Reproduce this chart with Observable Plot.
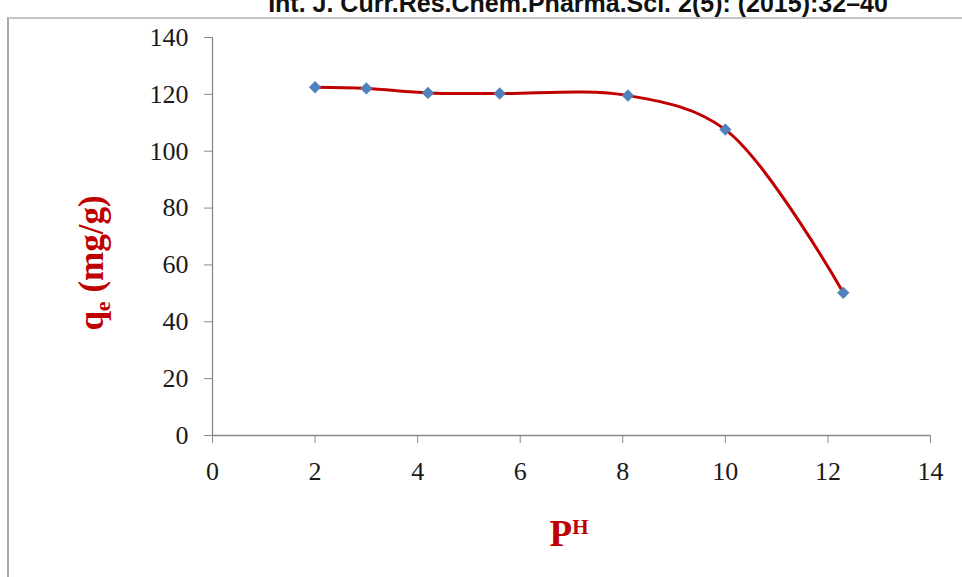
<!DOCTYPE html>
<html>
<head>
<meta charset="utf-8">
<script src="https://cdn.jsdelivr.net/npm/d3@7"></script>
<script src="https://cdn.jsdelivr.net/npm/@observablehq/plot@0.6"></script>
<style>
  body { margin: 0; background: #fff; }
  #wrap { position: relative; width: 962px; height: 577px; overflow: hidden; background: #fff; }
  #wrap svg { position: absolute; left: 0; top: 0; }
  #frame { position: absolute; left: 7px; top: 17px; width: 980px; height: 600px;
           border-left: 2px solid #a9a9a9; border-top: 2px solid #c4c4c4; }
</style>
</head>
<body>
<div id="wrap">
  <div id="frame"></div>
</div>
<script>
// ---- data ----
const header = "Int. J. Curr.Res.Chem.Pharma.Sci. 2(5): (2015):32–40";
const pH = [2, 3, 4.2, 5.6, 8.1, 10, 12.3];
const qe = [122.5, 122.1, 120.5, 120.3, 119.6, 107.6, 50.2];
const xTicks = [0, 2, 4, 6, 8, 10, 12, 14];
const yTicks = [0, 20, 40, 60, 80, 100, 120, 140];

const data = pH.map((x, i) => ({ x, y: qe[i] }));

const chart = Plot.plot({
  width: 962,
  height: 577,
  marginLeft: 212,
  marginRight: 32,
  marginTop: 37,
  marginBottom: 142,
  style: { fontFamily: "'Liberation Serif', 'Times New Roman', serif", fontSize: "26px", background: "transparent" },
  x: { domain: [0, 14] },
  y: { domain: [0, 140] },
  marks: [
    Plot.ruleX([0], { stroke: "#8a8a8a", strokeWidth: 1.3 }),
    Plot.ruleY([0], { stroke: "#8a8a8a", strokeWidth: 1.3 }),
    Plot.axisX({ ticks: xTicks, tickSize: 8, tickPadding: 18, stroke: "#8a8a8a", fill: "#1a1a1a", label: null }),
    Plot.axisY({ ticks: yTicks, tickSize: 8, tickPadding: 16, stroke: "#8a8a8a", fill: "#1a1a1a", label: null }),
    Plot.line(data, { x: "x", y: "y", curve: "catmull-rom", stroke: "#c00000", strokeWidth: 3 }),
    Plot.dot(data, { x: "x", y: "y", symbol: "diamond2", r: 5.3, fill: "#4f81bd", stroke: "#4f81bd", strokeWidth: 0.5 })
  ]
});

const wrap = document.getElementById("wrap");
wrap.insertBefore(chart, wrap.firstChild);

const svg = d3.select(chart);

// header (cut off at the top of the image, as in the source scan)
svg.append("text")
  .attr("x", 578).attr("y", 12)
  .attr("text-anchor", "middle")
  .style("font-family", "'Liberation Sans', Arial, sans-serif")
  .style("font-weight", "bold")
  .style("font-size", "25px")
  .attr("fill", "#111")
  .text(header);

// y label
const yl = svg.append("text")
  .attr("transform", "translate(103,263) rotate(-90)")
  .attr("text-anchor", "middle")
  .style("font-family", "'Liberation Serif', 'Times New Roman', serif")
  .style("font-weight", "bold")
  .style("font-size", "35px")
  .attr("fill", "#c00000");
yl.append("tspan").text("q");
yl.append("tspan").attr("dy", 7).style("font-size", "22px").text("e");
yl.append("tspan").attr("dy", -7).text(" (mg/g)");

// x label
const xl = svg.append("text")
  .attr("x", 569).attr("y", 546)
  .attr("text-anchor", "middle")
  .style("font-family", "'Liberation Serif', 'Times New Roman', serif")
  .style("font-weight", "bold")
  .style("font-size", "37px")
  .attr("fill", "#c00000");
xl.append("tspan").text("P");
xl.append("tspan").attr("dy", -12).style("font-size", "21px").text("H");
</script>
</body>
</html>
